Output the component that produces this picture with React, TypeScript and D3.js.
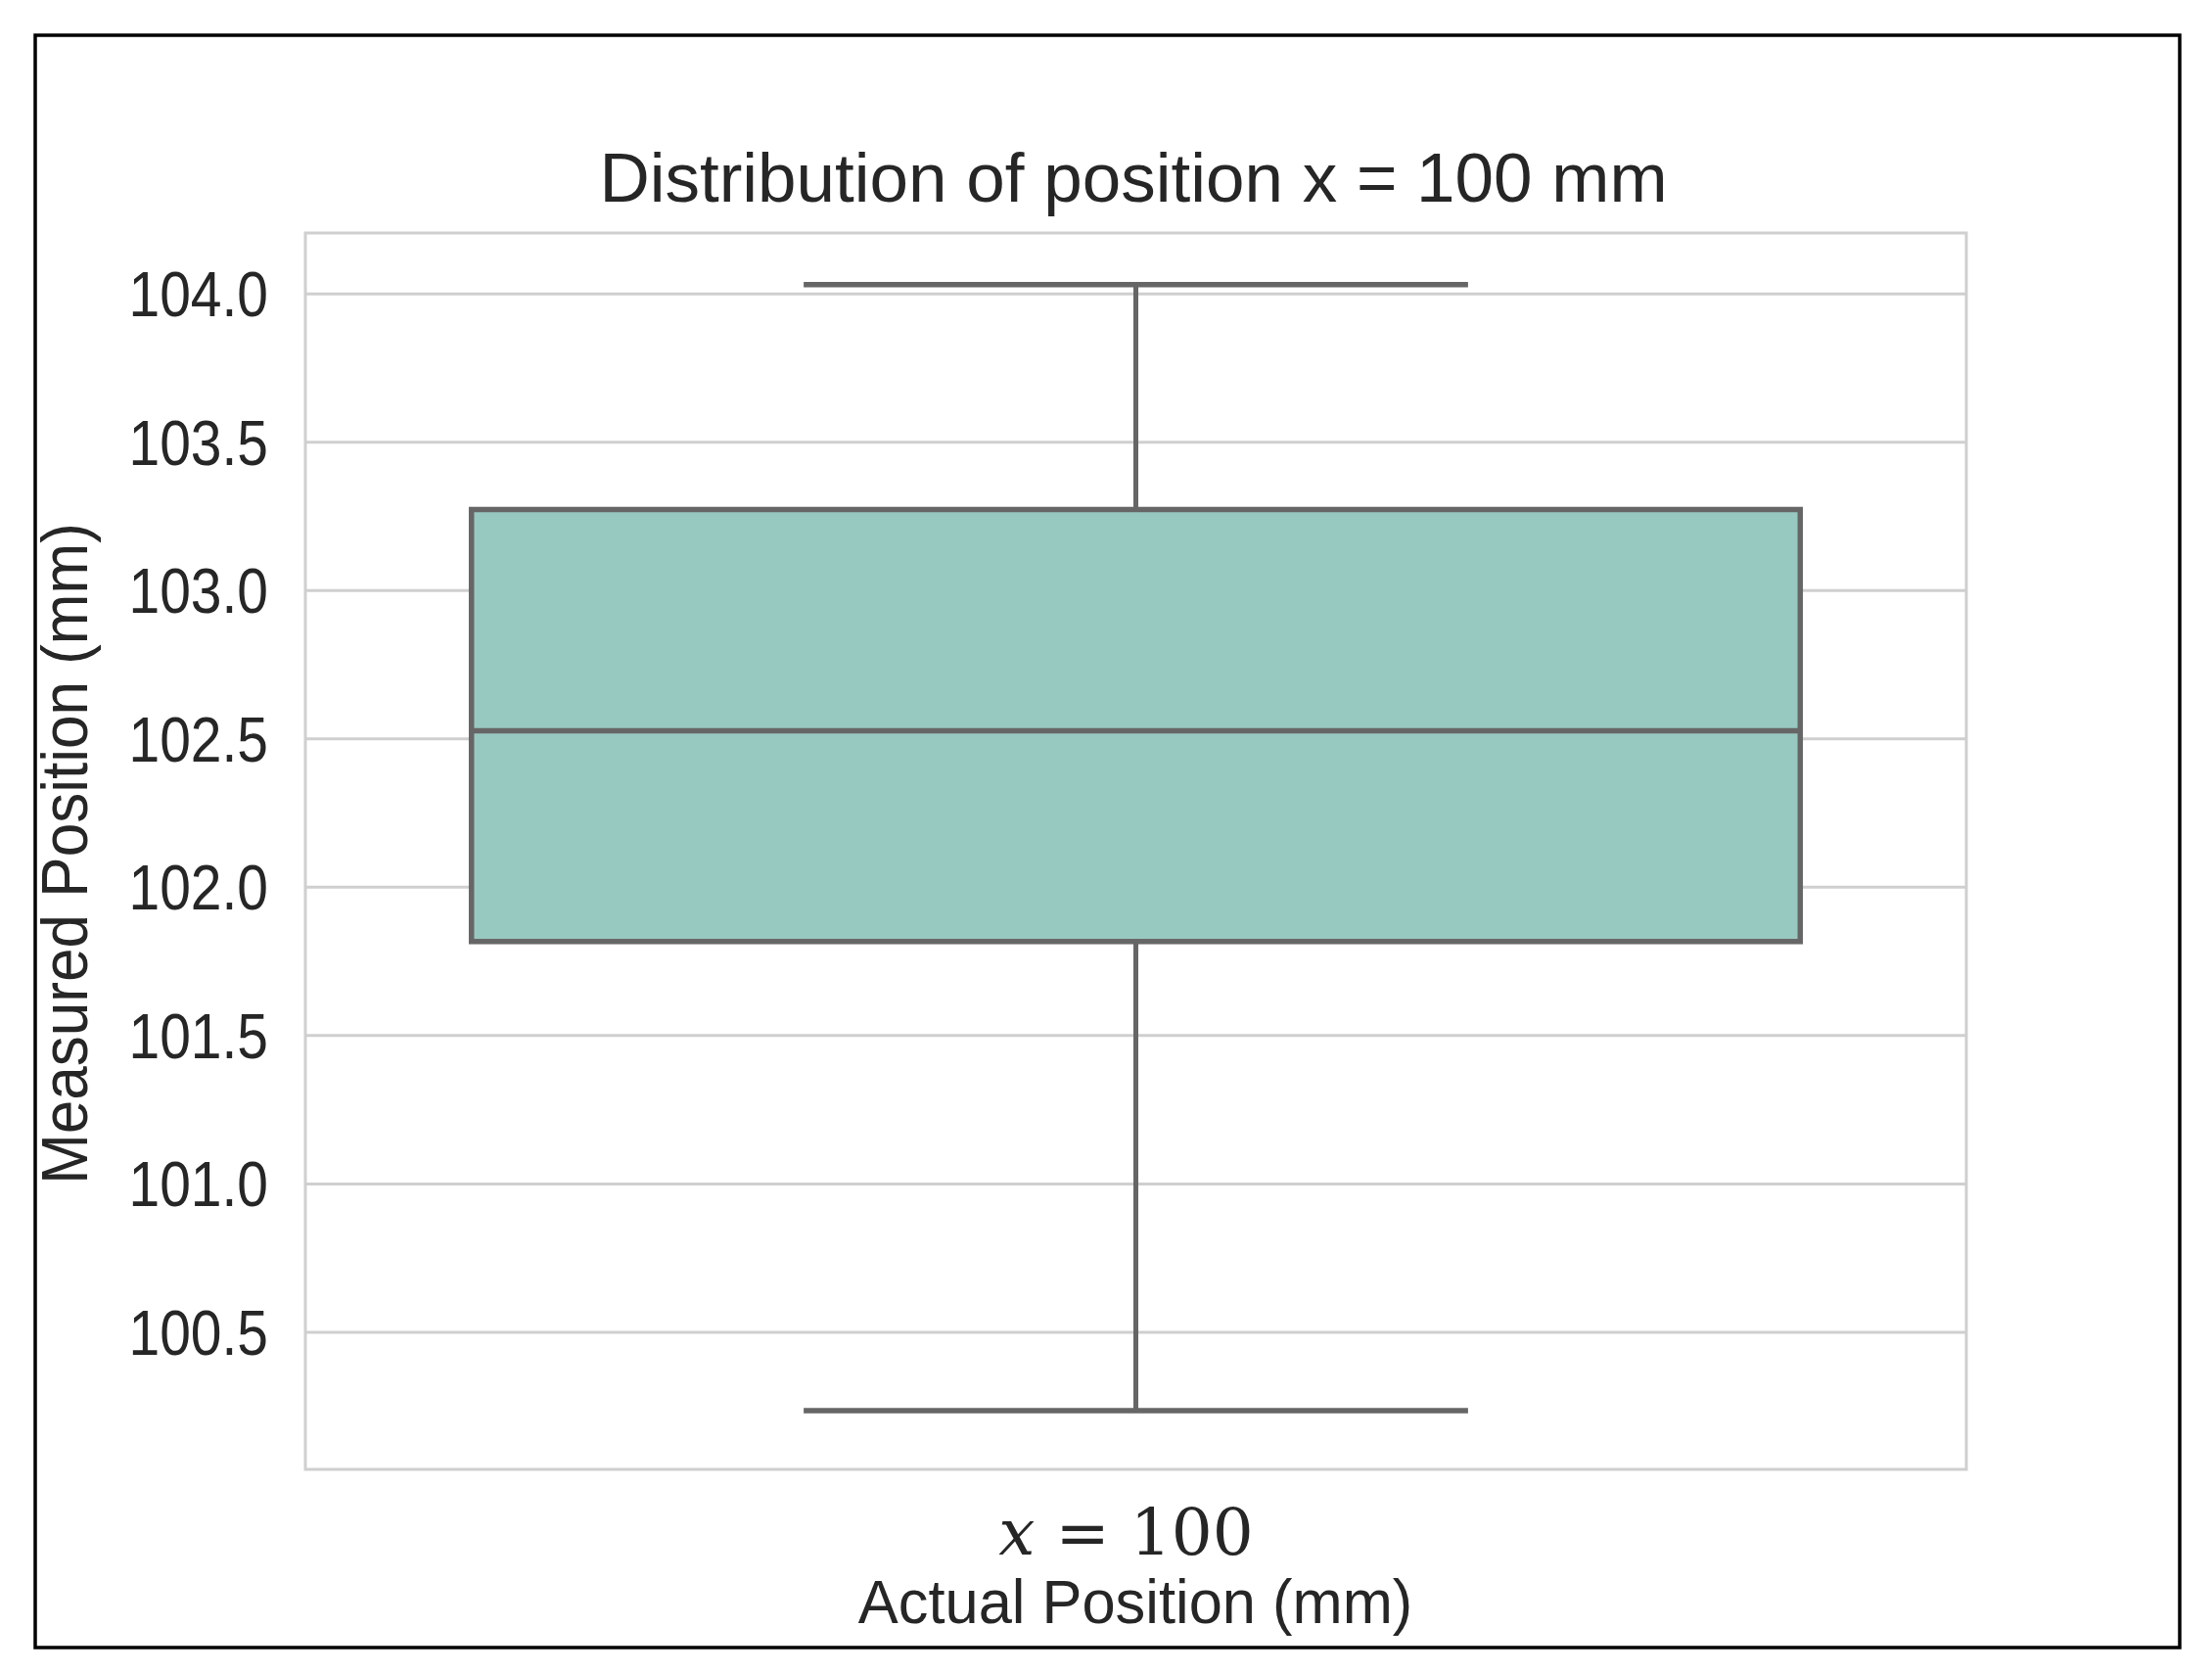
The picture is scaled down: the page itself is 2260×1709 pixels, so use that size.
import React, { useEffect, useRef } from "react";
import * as d3 from "d3";

// data
const categories = ["x = 100"];
const whiskerLow = [100.236];
const q1 = [101.817];
const median = [102.527];
const q3 = [103.273];
const whiskerHigh = [104.031];
const yTicks = [100.5, 101.0, 101.5, 102.0, 102.5, 103.0, 103.5, 104.0];
const yDomain = [100.038, 104.205];

const titleText = "Distribution of position x = 100 mm";
const xLabel = "Actual Position (mm)";
const yLabel = "Measured Position (mm)";

export default function App() {
  const svgRef = useRef(null);

  useEffect(() => {
    document.body.style.margin = "0";

    const w = 2260;
    const h = 1709;
    const plot = { left: 312, right: 2009, top: 238, bottom: 1501 };
    const textColor = "#262626";
    const gridColor = "#cfcfcf";
    const lineColor = "#666666";

    const svg = d3.select(svgRef.current).attr("width", w).attr("height", h);
    svg.selectAll("*").remove();

    svg.append("rect").attr("width", w).attr("height", h).attr("fill", "#fff");

    // outer frame around the figure
    svg
      .append("rect")
      .attr("x", 36)
      .attr("y", 36)
      .attr("width", 2191)
      .attr("height", 1647)
      .attr("fill", "none")
      .attr("stroke", "#000")
      .attr("stroke-width", 3.5);

    //scales
    const xScale = d3
      .scaleBand()
      .domain(categories)
      .range([plot.left, plot.right])
      .paddingInner(0.2)
      .paddingOuter(0.1);
    const yScale = d3.scaleLinear().domain(yDomain).range([plot.bottom, plot.top]);

    //grid lines
    svg
      .append("g")
      .selectAll("line")
      .data(yTicks)
      .enter()
      .append("line")
      .attr("x1", plot.left)
      .attr("x2", plot.right)
      .attr("y1", (d) => yScale(d))
      .attr("y2", (d) => yScale(d))
      .attr("stroke", gridColor)
      .attr("stroke-width", 3);

    // axes frame
    svg
      .append("rect")
      .attr("x", plot.left)
      .attr("y", plot.top)
      .attr("width", plot.right - plot.left)
      .attr("height", plot.bottom - plot.top)
      .attr("fill", "none")
      .attr("stroke", gridColor)
      .attr("stroke-width", 3);

    //y tick labels
    svg
      .append("g")
      .selectAll("text")
      .data(yTicks)
      .enter()
      .append("text")
      .attr("transform", (d) => `translate(274,${yScale(d)}) scale(0.89,1)`)
      .attr("dy", "0.36em")
      .attr("text-anchor", "end")
      .attr("font-family", "Liberation Sans, Arial, sans-serif")
      .attr("font-size", 64)
      .attr("fill", textColor)
      .text((d) => d3.format(".1f")(d));

    // boxes
    const boxes = categories.map((c, i) => ({
      c,
      lo: whiskerLow[i],
      q1: q1[i],
      med: median[i],
      q3: q3[i],
      hi: whiskerHigh[i],
    }));

    const g = svg.append("g");
    boxes.forEach((b) => {
      const x0 = xScale(b.c);
      const bw = xScale.bandwidth();
      const cx = x0 + bw / 2;
      const capW = bw / 2;

      // whiskers
      g.append("line")
        .attr("x1", cx)
        .attr("x2", cx)
        .attr("y1", yScale(b.q3))
        .attr("y2", yScale(b.hi))
        .attr("stroke", lineColor)
        .attr("stroke-width", 5);
      g.append("line")
        .attr("x1", cx)
        .attr("x2", cx)
        .attr("y1", yScale(b.q1))
        .attr("y2", yScale(b.lo))
        .attr("stroke", lineColor)
        .attr("stroke-width", 5);
      [b.lo, b.hi].forEach((v) => {
        g.append("line")
          .attr("x1", cx - capW / 2)
          .attr("x2", cx + capW / 2)
          .attr("y1", yScale(v))
          .attr("y2", yScale(v))
          .attr("stroke", lineColor)
          .attr("stroke-width", 5.5);
      });

      g.append("rect")
        .attr("x", x0)
        .attr("y", yScale(b.q3))
        .attr("width", bw)
        .attr("height", yScale(b.q1) - yScale(b.q3))
        .attr("fill", "#98c9c1")
        .attr("stroke", lineColor)
        .attr("stroke-width", 5.5);

      g.append("line")
        .attr("x1", x0)
        .attr("x2", x0 + bw)
        .attr("y1", yScale(b.med))
        .attr("y2", yScale(b.med))
        .attr("stroke", lineColor)
        .attr("stroke-width", 5.5);

      // x tick label, italic variable like mathtext
      const parts = b.c.split(" ");
      const t = svg
        .append("text")
        .attr("x", cx - 10)
        .attr("y", 1588)
        .attr("text-anchor", "middle")
        .attr("font-family", "DejaVu Serif, serif")
        .attr("font-size", 66)
        .attr("fill", textColor);
      t.append("tspan").attr("font-style", "italic").text(parts[0]);
      t.append("tspan").text(" " + parts.slice(1).join(" "));
    });

    //title and labels
    svg
      .append("text")
      .attr("x", 1158)
      .attr("y", 206)
      .attr("text-anchor", "middle")
      .attr("font-family", "Liberation Sans, Arial, sans-serif")
      .attr("font-size", 71)
      .attr("fill", textColor)
      .text(titleText);

    svg
      .append("text")
      .attr("transform", "translate(1160,1658) scale(0.975,1)")
      .attr("text-anchor", "middle")
      .attr("font-family", "Liberation Sans, Arial, sans-serif")
      .attr("font-size", 63)
      .attr("fill", textColor)
      .text(xLabel);

    svg
      .append("text")
      .attr("transform", "translate(89,872) rotate(-90) scale(0.94,1)")
      .attr("text-anchor", "middle")
      .attr("font-family", "Liberation Sans, Arial, sans-serif")
      .attr("font-size", 66)
      .attr("fill", textColor)
      .text(yLabel);
  }, []);

  return <svg ref={svgRef} style={{ display: "block" }}></svg>;
}
